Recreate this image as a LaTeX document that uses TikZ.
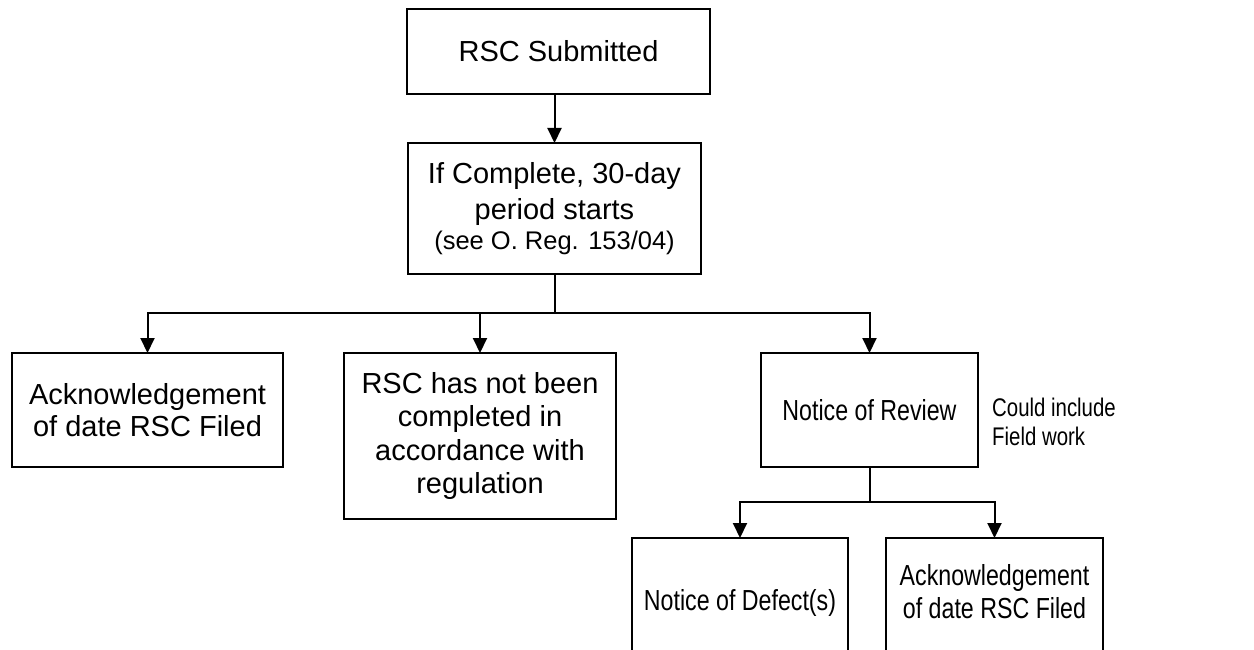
\documentclass[tikz,border=0pt]{standalone}
\usepackage{fontspec}
\setmainfont{Liberation Sans}
\newfontfamily\narrowfont[FakeStretch=0.8]{Liberation Sans}
\usetikzlibrary{arrows.meta}
\tikzset{
  box/.style={draw=black, line width=2pt, inner sep=0pt, outer sep=0pt, align=center,
    font=\fontsize{29pt}{33.5pt}\selectfont},
  nbox/.style={box, font=\narrowfont\fontsize{29pt}{33pt}\selectfont},
  conn/.style={line width=2pt},
  arr/.style={line width=2pt, -{Triangle[length=15pt,width=14pt]}},
  side/.style={align=left, inner sep=0pt, font=\narrowfont\fontsize{25.5pt}{29pt}\selectfont},
  ntext/.style={align=center, inner sep=0pt, font=\narrowfont\fontsize{29pt}{33pt}\selectfont}
}
\begin{document}
\begin{tikzpicture}[x=1pt,y=-1pt]
\useasboundingbox (0,0) rectangle (1254,650);
\clip (0,0) rectangle (1254,650);
\node[box, minimum width=303pt, minimum height=85pt] (sub) at (558.5,51.5) {RSC Submitted};
\node[box, minimum width=293pt, minimum height=131pt] (comp) at (554.5,208.5)
  {If Complete, 30-day\\[2.5pt]period starts\\[-3pt]{\fontsize{25.5pt}{28pt}\selectfont (see O. Reg. 153/04)}};
\node[box, minimum width=271pt, minimum height=114pt] (ackL) at (147.5,410)
  {Acknowledgement\\[-2pt]of date RSC Filed};
\node[box, minimum width=272pt, minimum height=166pt] (notc) at (480,436)
  {RSC has not been\\completed in\\accordance with\\regulation};
\node[nbox, minimum width=217pt, minimum height=114pt] (rev) at (869.5,410) {Notice of Review};
\node[side, anchor=west] (could) at (992,422) {Could include\\Field work};
\node[nbox, minimum width=216pt, minimum height=130pt] (def) at (740,603) {Notice of Defect(s)};
\node[box, minimum width=217pt, minimum height=130pt] (ackR) at (994.5,603) {};
\node[ntext] (ackRt) at (994.5,592) {Acknowledgement\\of date RSC Filed};

\draw[arr] (sub.south -| comp.south) -- (comp.north);
\coordinate (j1) at (554.5,313);
\draw[conn] (comp.south) -- (j1);
\draw[arr] (j1) -| (ackL.north);
\draw[arr] (j1) -| (notc.north);
\draw[arr] (j1) -| (rev.north);
\coordinate (j2) at (869.5,502);
\draw[conn] (rev.south) -- (j2);
\draw[arr] (j2) -| (def.north);
\draw[arr] (j2) -| (ackR.north);
\end{tikzpicture}
\end{document}
